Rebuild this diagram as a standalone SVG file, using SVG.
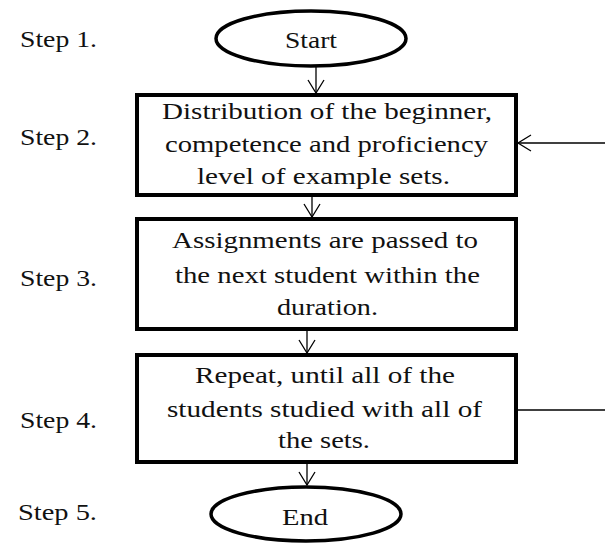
<svg xmlns="http://www.w3.org/2000/svg" width="605" height="543" viewBox="0 0 605 543">
<style>
text{font-family:"Liberation Serif","Times New Roman",serif;font-size:22.5px;fill:#111}
.box{fill:#fff;stroke:#000;stroke-width:4}
.term{fill:#fff;stroke:#000;stroke-width:3.5}
.con{fill:none;stroke:#000;stroke-width:1.3}
</style>
<defs>
<marker id="v" markerWidth="20" markerHeight="20" refX="14" refY="9" orient="auto" markerUnits="userSpaceOnUse">
<path d="M1,1 L14,9 L1,17" fill="none" stroke="#000" stroke-width="1.3"/>
</marker>
</defs>
<rect width="605" height="543" fill="#fff"/>
<g id="labels">
<text x="20" y="47" textLength="77" lengthAdjust="spacingAndGlyphs">Step 1.</text>
<text x="20" y="145" textLength="77" lengthAdjust="spacingAndGlyphs">Step 2.</text>
<text x="20" y="286" textLength="77" lengthAdjust="spacingAndGlyphs">Step 3.</text>
<text x="20" y="428" textLength="77" lengthAdjust="spacingAndGlyphs">Step 4.</text>
<text x="18" y="520" textLength="79" lengthAdjust="spacingAndGlyphs">Step 5.</text>
</g>
<g id="connectors">
<line class="con" x1="316" y1="67" x2="316" y2="93" marker-end="url(#v)"/>
<line class="con" x1="312" y1="197" x2="312" y2="217" marker-end="url(#v)"/>
<line class="con" x1="307" y1="331" x2="307" y2="353" marker-end="url(#v)"/>
<line class="con" x1="307" y1="464" x2="307" y2="485" marker-end="url(#v)"/>
<line class="con" x1="605" y1="143" x2="518" y2="143" marker-end="url(#v)"/>
<line class="con" x1="518" y1="410" x2="605" y2="410"/>
</g>
<g id="start">
<ellipse class="term" cx="311" cy="38.5" rx="95" ry="27.5"/>
<text x="285" y="48" textLength="52" lengthAdjust="spacingAndGlyphs">Start</text>
</g>
<g id="step2">
<rect class="box" x="137" y="95" width="379" height="100"/>
<text x="162" y="119" textLength="330" lengthAdjust="spacingAndGlyphs">Distribution of the beginner,</text>
<text x="165" y="152" textLength="323" lengthAdjust="spacingAndGlyphs">competence and proficiency</text>
<text x="197" y="184" textLength="253" lengthAdjust="spacingAndGlyphs">level of example sets.</text>
</g>
<g id="step3">
<rect class="box" x="137" y="219" width="379" height="110"/>
<text x="172" y="248" textLength="306" lengthAdjust="spacingAndGlyphs">Assignments are passed to</text>
<text x="175" y="283" textLength="305" lengthAdjust="spacingAndGlyphs">the next student within the</text>
<text x="277" y="315" textLength="101" lengthAdjust="spacingAndGlyphs">duration.</text>
</g>
<g id="step4">
<rect class="box" x="137" y="355" width="379" height="107"/>
<text x="195" y="383" textLength="260" lengthAdjust="spacingAndGlyphs">Repeat, until all of the</text>
<text x="167" y="417" textLength="315" lengthAdjust="spacingAndGlyphs">students studied with all of</text>
<text x="278" y="448" textLength="92" lengthAdjust="spacingAndGlyphs">the sets.</text>
</g>
<g id="end">
<ellipse class="term" cx="306" cy="514" rx="95" ry="27"/>
<text x="282" y="525" textLength="46" lengthAdjust="spacingAndGlyphs">End</text>
</g>
</svg>
